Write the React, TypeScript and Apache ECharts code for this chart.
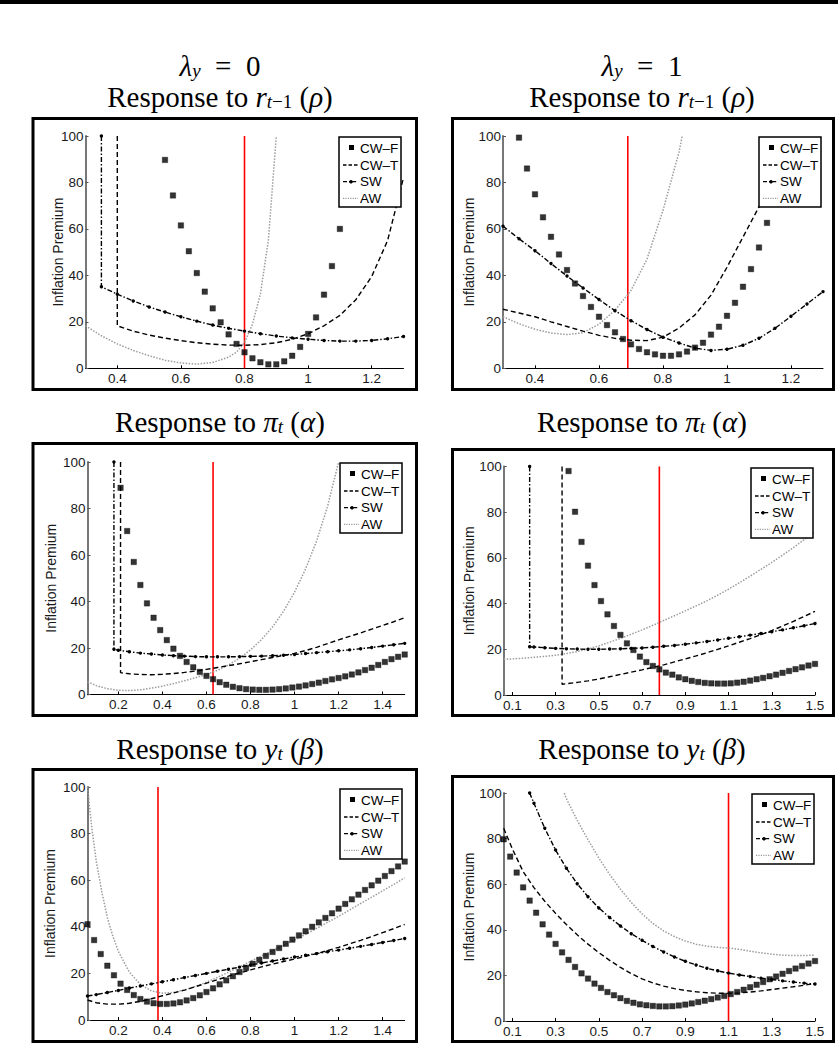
import React, { useEffect, useRef } from "react";
import * as echarts from "echarts";

// ---------------- data ----------------
// Panel A: lambda_y = 0, response to r(t-1)
const A_CWF = [[0.55,89.7],[0.575,74.4],[0.6,61.5],[0.625,50.4],[0.65,41.0],[0.675,33.0],[0.7,25.8],[0.725,19.8],[0.75,14.6],[0.775,10.5],[0.8,6.9],[0.825,4.3],[0.85,2.6],[0.875,1.7],[0.9,1.7],[0.925,3.0],[0.95,5.4],[0.975,9.2],[1.0,14.8],[1.025,21.9],[1.05,31.7],[1.075,44.0],[1.1,60.0]];
const A_CWT = [[0.4,100],[0.4,18.3],[0.45,16.0],[0.5,14.3],[0.55,13.0],[0.6,11.9],[0.65,11.0],[0.7,10.4],[0.75,10.0],[0.8,9.9],[0.85,10.2],[0.9,11.0],[0.95,12.5],[1.0,14.9],[1.05,18.3],[1.1,22.8],[1.15,29.5],[1.2,39.5],[1.25,55.0],[1.3,82.0]];
const A_SW = [[0.35,100],[0.35,35.1],[0.4,31.9],[0.45,29.0],[0.5,26.4],[0.55,24.2],[0.6,22.2],[0.65,20.3],[0.7,18.6],[0.75,17.2],[0.8,16.0],[0.85,14.9],[0.9,13.9],[0.95,13.1],[1.0,12.5],[1.05,12.0],[1.1,11.7],[1.15,11.7],[1.2,12.0],[1.25,12.7],[1.3,13.7]];
const A_AW = [[0.3,18.3],[0.35,14.0],[0.4,10.5],[0.45,7.7],[0.5,5.4],[0.55,3.5],[0.6,2.3],[0.65,1.8],[0.7,2.5],[0.75,4.8],[0.775,7.0],[0.8,11.0],[0.825,19.0],[0.85,32.0],[0.875,55.0],[0.9,100]];
const A_RED = 0.8;

// Panel B: lambda_y = 1, response to r(t-1)
const B_CWF = [[0.35,99.3],[0.375,86.0],[0.4,74.9],[0.425,65.0],[0.45,56.6],[0.475,49.0],[0.5,42.3],[0.525,36.5],[0.55,31.1],[0.575,26.4],[0.6,22.2],[0.625,18.6],[0.65,15.5],[0.675,12.6],[0.7,10.3],[0.725,8.3],[0.75,6.9],[0.775,6.0],[0.8,5.4],[0.825,5.4],[0.85,6.0],[0.875,7.2],[0.9,8.9],[0.925,11.0],[0.95,14.5],[0.975,17.9],[1.0,22.6],[1.025,28.2],[1.05,35.1],[1.075,42.7],[1.1,52.0],[1.125,62.6]];
const B_CWT = [[0.3,25.4],[0.35,23.8],[0.4,22.2],[0.45,20.0],[0.5,18.0],[0.55,16.0],[0.6,14.2],[0.65,12.9],[0.7,12.1],[0.75,11.9],[0.8,13.4],[0.85,17.3],[0.9,23.0],[0.95,31.5],[1.0,43.5],[1.05,56.5],[1.1,69.5],[1.15,82.0]];
const B_SW = [[0.3,61.2],[0.35,55.8],[0.4,50.6],[0.45,45.1],[0.5,39.7],[0.55,34.6],[0.6,29.6],[0.65,24.8],[0.7,20.5],[0.75,16.7],[0.8,13.4],[0.85,10.9],[0.9,8.7],[0.95,7.7],[1.0,8.2],[1.05,9.9],[1.1,12.9],[1.15,17.2],[1.2,22.4],[1.25,27.7],[1.3,33.0]];
const B_AW = [[0.3,22.2],[0.35,19.2],[0.4,16.8],[0.45,15.2],[0.5,14.5],[0.55,15.3],[0.6,19.0],[0.65,25.0],[0.7,33.5],[0.75,47.0],[0.8,68.0],[0.85,93.0],[0.86,100]];
const B_RED = 0.69;

// Panel C: lambda_y = 0, response to pi_t
const C_CWF = [[0.21,88.9],[0.24,70.3],[0.27,57.0],[0.3,47.1],[0.33,39.2],[0.36,33.0],[0.39,27.7],[0.42,23.4],[0.45,19.7],[0.48,16.6],[0.51,14.0],[0.54,11.7],[0.57,9.7],[0.6,8.0],[0.63,6.6],[0.66,5.3],[0.69,4.2],[0.72,3.3],[0.75,2.7],[0.78,2.3],[0.81,2.1],[0.84,2.0],[0.87,2.0],[0.9,2.1],[0.93,2.3],[0.96,2.6],[0.99,3.0],[1.02,3.4],[1.05,3.9],[1.08,4.5],[1.11,5.1],[1.14,5.8],[1.17,6.5],[1.2,7.1],[1.23,7.8],[1.26,8.6],[1.29,9.5],[1.32,10.5],[1.35,11.5],[1.38,12.7],[1.41,14.0],[1.44,15.2],[1.47,16.2],[1.5,17.2]];
const C_CWT = [[0.21,100],[0.21,9.4],[0.25,8.9],[0.3,8.6],[0.35,8.5],[0.4,8.7],[0.45,9.0],[0.5,9.5],[0.55,10.1],[0.6,10.8],[0.65,11.6],[0.7,12.4],[0.75,13.2],[0.8,14.1],[0.85,15.0],[0.9,15.9],[0.95,16.8],[1.0,17.7],[1.05,18.9],[1.1,20.3],[1.15,21.9],[1.2,23.5],[1.25,25.0],[1.3,26.5],[1.35,28.1],[1.4,29.7],[1.45,31.3],[1.5,33.0]];
const C_SW = [[0.18,100],[0.18,19.5],[0.2,19.0],[0.25,18.4],[0.3,17.8],[0.35,17.4],[0.4,17.0],[0.45,16.7],[0.5,16.5],[0.55,16.3],[0.6,16.2],[0.65,16.2],[0.7,16.2],[0.75,16.3],[0.8,16.4],[0.85,16.5],[0.9,16.7],[0.95,16.9],[1.0,17.2],[1.05,17.6],[1.1,18.0],[1.15,18.4],[1.2,18.8],[1.25,19.2],[1.3,19.7],[1.35,20.2],[1.4,20.8],[1.45,21.4],[1.5,22.0]];
const C_AW = [[0.06,5.5],[0.1,3.8],[0.15,2.5],[0.2,1.8],[0.25,1.7],[0.3,2.0],[0.35,2.7],[0.4,3.6],[0.45,4.7],[0.5,5.9],[0.55,7.2],[0.6,8.6],[0.65,10.4],[0.7,12.7],[0.75,15.6],[0.8,19.2],[0.85,23.6],[0.9,29.0],[0.95,35.8],[1.0,44.0],[1.05,54.0],[1.1,66.0],[1.15,81.0],[1.2,100]];
const C_RED = 0.63;

// Panel D: lambda_y = 1, response to pi_t
const D_CWF = [[0.36,98.0],[0.39,80.2],[0.42,67.0],[0.45,56.6],[0.48,48.1],[0.51,41.1],[0.54,35.3],[0.57,30.2],[0.6,26.3],[0.63,22.6],[0.66,19.7],[0.69,16.8],[0.72,14.4],[0.75,12.7],[0.78,11.2],[0.81,9.8],[0.84,8.9],[0.87,7.7],[0.9,6.9],[0.93,6.2],[0.96,5.7],[0.99,5.3],[1.02,5.1],[1.05,5.0],[1.08,5.0],[1.11,5.1],[1.14,5.4],[1.17,5.8],[1.2,6.3],[1.23,6.9],[1.26,7.5],[1.29,8.2],[1.32,8.9],[1.35,9.7],[1.38,10.5],[1.41,11.3],[1.44,12.1],[1.47,12.9],[1.5,13.6]];
const D_CWT = [[0.33,100],[0.33,4.7],[0.4,5.5],[0.45,6.2],[0.5,7.0],[0.55,8.0],[0.6,9.0],[0.65,10.0],[0.7,11.0],[0.75,12.1],[0.8,13.2],[0.85,14.5],[0.9,15.8],[0.95,17.1],[1.0,18.5],[1.05,20.0],[1.1,21.5],[1.15,23.1],[1.2,24.7],[1.25,26.4],[1.3,28.2],[1.35,30.2],[1.4,32.2],[1.45,34.4],[1.5,36.6]];
const D_SW = [[0.18,100],[0.18,21.1],[0.2,21.0],[0.25,20.7],[0.3,20.4],[0.35,20.2],[0.4,20.1],[0.45,20.0],[0.5,20.0],[0.55,20.1],[0.6,20.2],[0.65,20.4],[0.7,20.6],[0.75,20.9],[0.8,21.3],[0.85,21.7],[0.9,22.2],[0.95,22.8],[1.0,23.4],[1.05,24.1],[1.1,24.8],[1.15,25.5],[1.2,26.2],[1.25,26.9],[1.3,27.7],[1.35,28.5],[1.4,29.4],[1.45,30.3],[1.5,31.3]];
const D_AW = [[0.06,15.6],[0.1,15.8],[0.15,16.1],[0.2,16.5],[0.25,16.9],[0.3,17.4],[0.35,18.1],[0.4,19.0],[0.45,20.2],[0.5,21.5],[0.55,23.1],[0.6,24.8],[0.65,26.6],[0.7,28.5],[0.75,30.5],[0.8,32.6],[0.85,34.7],[0.9,36.8],[0.95,39.0],[1.0,41.2],[1.05,43.7],[1.1,46.3],[1.15,49.1],[1.2,52.0],[1.25,55.0],[1.3,58.0],[1.35,61.2],[1.4,64.5],[1.45,68.0],[1.5,71.5]];
const D_RED = 0.78;

// Panel E: lambda_y = 0, response to y_t
const E_CWF = [[0.06,41.1],[0.09,34.3],[0.12,28.3],[0.15,23.3],[0.18,19.2],[0.21,15.6],[0.24,12.9],[0.27,10.7],[0.3,9.0],[0.33,7.9],[0.36,7.2],[0.39,6.9],[0.42,6.9],[0.45,7.1],[0.48,7.6],[0.51,8.4],[0.54,9.4],[0.57,10.6],[0.6,12.0],[0.63,13.6],[0.66,15.3],[0.69,17.0],[0.72,18.8],[0.75,20.6],[0.78,22.4],[0.81,24.1],[0.84,25.8],[0.87,27.5],[0.9,29.2],[0.93,30.9],[0.96,32.7],[0.99,34.5],[1.02,36.3],[1.05,38.1],[1.08,40.0],[1.11,41.9],[1.14,43.8],[1.17,45.8],[1.2,47.8],[1.23,49.8],[1.26,51.8],[1.29,53.8],[1.32,55.8],[1.35,57.8],[1.38,59.8],[1.41,61.8],[1.44,63.9],[1.47,65.9],[1.5,68.0]];
const E_CWT = [[0.06,8.6],[0.1,7.4],[0.15,6.8],[0.2,6.8],[0.25,7.2],[0.3,8.0],[0.35,9.1],[0.4,10.4],[0.45,11.6],[0.5,12.8],[0.55,14.3],[0.6,15.8],[0.65,17.3],[0.7,18.8],[0.75,20.2],[0.8,21.5],[0.85,22.8],[0.9,24.0],[0.95,25.1],[1.0,26.2],[1.05,27.3],[1.1,28.5],[1.15,29.8],[1.2,31.2],[1.25,32.7],[1.3,34.2],[1.35,35.8],[1.4,37.5],[1.45,39.2],[1.5,41.0]];
const E_SW = [[0.06,10.3],[0.1,10.9],[0.15,11.8],[0.2,12.7],[0.25,13.7],[0.3,14.6],[0.35,15.5],[0.4,16.4],[0.45,17.3],[0.5,18.2],[0.55,19.1],[0.6,20.0],[0.65,20.9],[0.7,21.8],[0.75,22.7],[0.8,23.6],[0.85,24.5],[0.9,25.3],[0.95,26.2],[1.0,27.0],[1.05,27.8],[1.1,28.5],[1.15,29.3],[1.2,30.0],[1.25,30.8],[1.3,31.6],[1.35,32.4],[1.4,33.3],[1.45,34.1],[1.5,35.0]];
const E_AW = [[0.06,100],[0.08,82],[0.1,68],[0.125,55],[0.15,44],[0.175,36],[0.2,29.5],[0.25,20.5],[0.3,15.3],[0.35,12.5],[0.4,11.5],[0.45,11.8],[0.5,12.9],[0.55,14.4],[0.6,16.2],[0.65,18.3],[0.7,20.5],[0.75,22.8],[0.8,25.2],[0.85,27.5],[0.9,29.8],[0.95,32.0],[1.0,34.3],[1.05,36.8],[1.1,39.3],[1.15,41.9],[1.2,44.5],[1.25,47.2],[1.3,50.0],[1.35,52.7],[1.4,55.5],[1.45,58.2],[1.5,61.0]];
const E_RED = 0.38;

// Panel F: lambda_y = 1, response to y_t
const F_CWF = [[0.06,79.7],[0.09,72.1],[0.12,65.1],[0.15,58.6],[0.18,52.8],[0.21,47.5],[0.24,42.4],[0.27,37.9],[0.3,33.8],[0.33,30.1],[0.36,26.8],[0.39,23.7],[0.42,20.9],[0.45,18.6],[0.48,16.4],[0.51,14.5],[0.54,12.7],[0.57,11.3],[0.6,10.0],[0.63,8.8],[0.66,8.0],[0.69,7.3],[0.72,6.9],[0.75,6.6],[0.78,6.4],[0.81,6.4],[0.84,6.5],[0.87,6.8],[0.9,7.2],[0.93,7.7],[0.96,8.3],[0.99,8.9],[1.02,9.6],[1.05,10.3],[1.08,11.0],[1.11,11.8],[1.14,12.7],[1.17,13.7],[1.2,14.8],[1.23,15.9],[1.26,17.1],[1.29,18.3],[1.32,19.5],[1.35,20.7],[1.38,21.9],[1.41,23.0],[1.44,24.1],[1.47,25.2],[1.5,26.3]];
const F_CWT = [[0.06,84.5],[0.1,75.5],[0.15,65.5],[0.2,58.5],[0.25,52.5],[0.3,47.2],[0.35,42.3],[0.4,37.8],[0.45,33.7],[0.5,30.0],[0.55,26.6],[0.6,23.5],[0.65,20.8],[0.7,18.5],[0.75,16.7],[0.8,15.3],[0.85,14.2],[0.9,13.4],[0.95,12.8],[1.0,12.4],[1.05,12.2],[1.1,12.1],[1.15,12.3],[1.2,12.7],[1.25,13.2],[1.3,13.8],[1.35,14.4],[1.4,15.0],[1.45,15.7],[1.5,16.4]];
const F_SW = [[0.18,100],[0.2,95.5],[0.25,84.5],[0.3,75.0],[0.35,67.0],[0.4,60.2],[0.45,54.5],[0.5,49.6],[0.55,45.4],[0.6,41.7],[0.65,38.3],[0.7,35.4],[0.75,32.7],[0.8,30.3],[0.85,28.1],[0.9,26.2],[0.95,24.6],[1.0,23.1],[1.05,22.0],[1.1,21.0],[1.15,20.2],[1.2,19.5],[1.25,18.8],[1.3,18.2],[1.35,17.6],[1.4,17.1],[1.45,16.6],[1.5,16.2]];
const F_AW = [[0.34,100],[0.35,97.5],[0.4,88],[0.45,79.5],[0.5,71.5],[0.55,64.3],[0.6,57.8],[0.65,52.0],[0.7,47.0],[0.75,42.8],[0.8,39.5],[0.85,37.0],[0.9,35.1],[0.95,33.7],[1.0,32.8],[1.05,32.3],[1.1,32.0],[1.15,31.4],[1.2,30.6],[1.25,29.9],[1.3,29.3],[1.35,28.9],[1.4,28.7],[1.45,28.7],[1.5,28.9]];
const F_RED = 1.1;

// ticks / labels
const X_TICKS_TOP = [0.4, 0.6, 0.8, 1, 1.2];
const X_TICKS_LEFT = [0.2, 0.4, 0.6, 0.8, 1, 1.2, 1.4];
const X_TICKS_RIGHT = [0.1, 0.3, 0.5, 0.7, 0.9, 1.1, 1.3, 1.5];
const Y_MIN = 0, Y_MAX = 100, Y_STEP = 20;
const LEGEND_NAMES = ["CW–F", "CW–T", "SW", "AW"];
const Y_NAME = "Inflation Premium";
const HEADERS = ["{i|λ}{s|y}{n|\u2002=\u20020}", "{i|λ}{s|y}{n|\u2002=\u20021}"];
const ROW_TITLES = [
  "{n|Response to }{i|r}{s|t}{sr|−1}{n| (}{i|ρ}{n|)}",
  "{n|Response to }{i|π}{s|t}{n| (}{i|α}{n|)}",
  "{n|Response to }{i|y}{s|t}{n| (}{i|β}{n|)}",
];

// ---------------- layout ----------------
const SANS = "'Liberation Sans', Arial, Helvetica, sans-serif";
const SERIF = "'Liberation Serif', 'Times New Roman', serif";

const PANELS = [
  { cwf: A_CWF, cwt: A_CWT, sw: A_SW, aw: A_AW, red: A_RED, xMin: 0.3, xMax: 1.3, ticks: X_TICKS_TOP,
    grid: { left: 85.5, top: 136, width: 318, height: 232.3 }, frame: [31.5, 117, 418, 391], legend: [339, 137], yName: 57.5 },
  { cwf: B_CWF, cwt: B_CWT, sw: B_SW, aw: B_AW, red: B_RED, xMin: 0.3, xMax: 1.3, ticks: X_TICKS_TOP,
    grid: { left: 503, top: 136, width: 320, height: 232.3 }, frame: [451, 117, 835, 391], legend: [759, 137], yName: 468.5 },
  { cwf: C_CWF, cwt: C_CWT, sw: C_SW, aw: C_AW, red: C_RED, xMin: 0.06, xMax: 1.5, ticks: X_TICKS_LEFT,
    grid: { left: 87.5, top: 462, width: 317.2, height: 232.5 }, frame: [31.5, 442, 418, 717], legend: [340, 463], yName: 51 },
  { cwf: D_CWF, cwt: D_CWT, sw: D_SW, aw: D_AW, red: D_RED, xMin: 0.06, xMax: 1.5, ticks: X_TICKS_RIGHT,
    grid: { left: 503.7, top: 466.5, width: 311.3, height: 228.5 }, frame: [451, 448, 835, 717], legend: [751, 468], yName: 468.5 },
  { cwf: E_CWF, cwt: E_CWT, sw: E_SW, aw: E_AW, red: E_RED, xMin: 0.06, xMax: 1.5, ticks: X_TICKS_LEFT,
    grid: { left: 87.5, top: 787, width: 317.2, height: 233 }, frame: [31.5, 768, 418, 1043], legend: [340, 789], yName: 50 },
  { cwf: F_CWF, cwt: F_CWT, sw: F_SW, aw: F_AW, red: F_RED, xMin: 0.06, xMax: 1.5, ticks: X_TICKS_RIGHT,
    grid: { left: 503.7, top: 793, width: 311.3, height: 228 }, frame: [451, 775, 835, 1043], legend: [752, 794], yName: 468.5 },
];

const COL_CENTER = [220, 642];
const HEADER_Y = 66;
const ROW_TITLE_Y = [97, 422, 749];

const richTitle = {
  n: { fontSize: 29, fontFamily: SERIF, lineHeight: 28, fill: "#000" },
  i: { fontSize: 29, fontFamily: SERIF, fontStyle: "italic", lineHeight: 28, fill: "#000" },
  s: { fontSize: 19, fontFamily: SERIF, fontStyle: "italic", lineHeight: 14, verticalAlign: "bottom", fill: "#000" },
  sr: { fontSize: 19, fontFamily: SERIF, lineHeight: 14, verticalAlign: "bottom", fill: "#000" },
};

function titleText(text: string, x: number, y: number) {
  return {
    type: "text", x, y, z: 10,
    style: { text, rich: richTitle, fill: "#000", align: "center", verticalAlign: "middle", textAlign: "center", textVerticalAlign: "middle" },
  };
}

function legendGroup(x: number, y: number) {
  const rows = [11.3, 28, 44.7, 61.3];
  const Z = 100;
  const kids: any[] = [
    { type: "rect", z: Z, shape: { x: 0, y: 0, width: 62, height: 70 }, style: { fill: "#fff", stroke: "#000", lineWidth: 1.5 } },
    { type: "rect", z: Z + 1, shape: { x: 10, y: Math.round(rows[0]) - 3, width: 5, height: 5 }, style: { fill: "#000" } },
    { type: "line", z: Z + 1, shape: { x1: 4, y1: rows[1], x2: 19, y2: rows[1] }, style: { stroke: "#000", lineWidth: 1.3, lineDash: [3.5, 2] } },
    { type: "line", z: Z + 1, shape: { x1: 4, y1: rows[2], x2: 19, y2: rows[2] }, style: { stroke: "#000", lineWidth: 1.3, lineDash: [4, 2, 1.2, 2] } },
    { type: "circle", z: Z + 1, shape: { cx: 12, cy: rows[2], r: 1.8 }, style: { fill: "#000" } },
    { type: "line", z: Z + 1, shape: { x1: 4, y1: rows[3], x2: 19, y2: rows[3] }, style: { stroke: "#999", lineWidth: 1.3, lineDash: [1.2, 1.2] } },
  ];
  LEGEND_NAMES.forEach((n, i) => {
    kids.push({
      type: "text", z: Z + 1, x: 21, y: rows[i],
      style: { text: n, fontSize: 13.5, fontFamily: SANS, fill: "#000", align: "left", verticalAlign: "middle", textAlign: "left", textVerticalAlign: "middle" },
    });
  });
  return { type: "group", x, y, z: Z, children: kids };
}

function buildOption() {
  const grid: any[] = [];
  const xAxis: any[] = [];
  const yAxis: any[] = [];
  const series: any[] = [];
  const graphic: any[] = [];

  graphic.push({ type: "rect", z: 0, shape: { x: 0, y: 0, width: 838, height: 4 }, style: { fill: "#000" } });

  PANELS.forEach((p, i) => {
    grid.push({ ...p.grid, containLabel: false });
    xAxis.push({
      type: "value", gridIndex: i, min: p.xMin, max: p.xMax,
      axisLine: { show: true, onZero: false, lineStyle: { color: "#000", width: 1 } },
      axisTick: { show: true, inside: true, length: 3, customValues: p.ticks, lineStyle: { color: "#000" } },
      axisLabel: {
        customValues: p.ticks, fontSize: 13.5, fontFamily: SANS, color: "#1a1a1a", margin: 3,
        formatter: (v: number) => String(Math.round(v * 100) / 100),
      },
      splitLine: { show: false },
    });
    yAxis.push({
      type: "value", gridIndex: i, min: Y_MIN, max: Y_MAX, interval: Y_STEP,
      axisLine: { show: true, onZero: false, lineStyle: { color: "#777", width: 2 } },
      axisTick: { show: true, inside: true, length: 3, lineStyle: { color: "#555" } },
      axisLabel: { fontSize: 13.5, fontFamily: SANS, color: "#1a1a1a", margin: 2 },
      splitLine: { show: false },
    });
    const common = { xAxisIndex: i, yAxisIndex: i, silent: true, animation: false, clip: true };
    series.push({ ...common, type: "line", name: "ref", data: [[p.red, Y_MIN], [p.red, Y_MAX]], symbol: "none", z: 2,
      lineStyle: { color: "#ff0000", width: 1.6 } });
    series.push({ ...common, type: "line", name: "AW", data: p.aw, symbol: "none", z: 3,
      lineStyle: { color: "#9c9c9c", width: 1.5, type: [1.5, 1.5] } });
    series.push({ ...common, type: "line", name: "CW–T", data: p.cwt, symbol: "none", z: 4,
      lineStyle: { color: "#000", width: 1.4, type: [5, 3] } });
    series.push({ ...common, type: "line", name: "SW", data: p.sw, symbol: "circle", symbolSize: 3.4, showSymbol: true, z: 5,
      itemStyle: { color: "#000" }, lineStyle: { color: "#000", width: 1.4, type: [5, 2, 1.5, 2] } });
    series.push({ ...common, type: "scatter", name: "CW–F", data: p.cwf, symbol: "rect", symbolSize: 5.5, z: 6,
      itemStyle: { color: "#000", borderColor: "#000", borderWidth: 0.4 } });

    const [fx1, fy1, fx2, fy2] = p.frame;
    graphic.push({ type: "rect", z: 1, shape: { x: fx1 + 1.5, y: fy1 + 1.5, width: fx2 - fx1 - 3, height: fy2 - fy1 - 3 },
      style: { fill: "none", stroke: "#000", lineWidth: 3 } });
    graphic.push({
      type: "text", z: 10, x: p.yName, y: p.grid.top + p.grid.height / 2, rotation: Math.PI / 2,
      style: { text: Y_NAME, fontSize: 14, fontFamily: SANS, fill: "#1a1a1a", align: "center", verticalAlign: "middle", textAlign: "center", textVerticalAlign: "middle" },
    });
    graphic.push(legendGroup(p.legend[0], p.legend[1]));
  });

  HEADERS.forEach((h, c) => graphic.push(titleText(h, COL_CENTER[c], HEADER_Y)));
  ROW_TITLES.forEach((t, r) => {
    COL_CENTER.forEach((cx) => graphic.push(titleText(t, cx, ROW_TITLE_Y[r])));
  });

  return { animation: false, backgroundColor: "#fff", grid, xAxis, yAxis, series, graphic };
}

export default function App() {
  const ref = useRef<HTMLDivElement>(null);
  useEffect(() => {
    if (!ref.current) return;
    const chart = echarts.init(ref.current, null, { renderer: "svg" });
    chart.setOption(buildOption() as any);
    return () => chart.dispose();
  }, []);
  return <div ref={ref} style={{ position: "absolute", left: 0, top: 0, width: 838, height: 1061, background: "#fff" }} />;
}
